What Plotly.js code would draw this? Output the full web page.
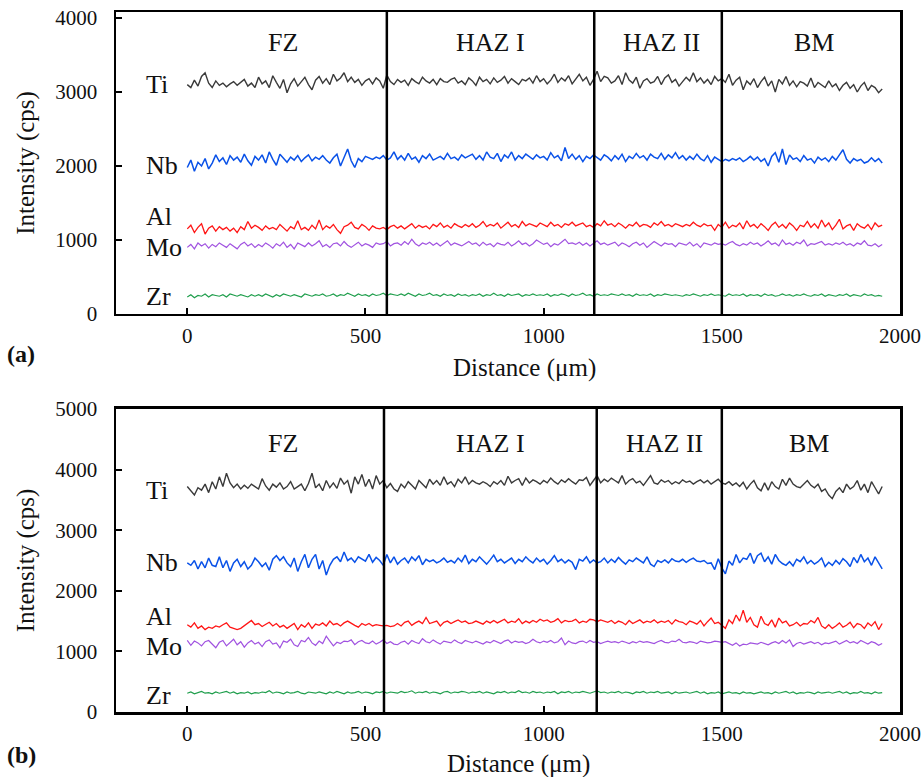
<!DOCTYPE html>
<html>
<head>
<meta charset="utf-8">
<script src="https://cdn.plot.ly/plotly-3.0.1.min.js"></script>
<style>html,body{margin:0;padding:0;background:#fff;}#chart{width:923px;height:777px;}</style>
</head>
<body>
<div id="chart"></div>
<script>
// Distance grid (µm): 0..1950, step 10
const distanceStep = 10;
const pointCount = 196;
const distance = Array.from({length: pointCount}, (_, i) => i * distanceStep);

const elements = ["Ti", "Nb", "Al", "Mo", "Zr"];
const zoneNames = ["FZ", "HAZ I", "HAZ II", "BM"];
const zoneBoundariesA = [560, 1142, 1500];
const zoneBoundariesB = [552, 1149, 1500];
const xTickVals = [0, 500, 1000, 1500, 2000];
const yTickValsA = [0, 1000, 2000, 3000, 4000];
const yTickValsB = [0, 1000, 2000, 3000, 4000, 5000];

// ---------- Panel (a) ----------
const tiA = [
3100,3060,3160,3080,3210,3260,3120,3060,3150,3090,3120,3070,3110,3140,3090,3130,3170,3080,3120,3060,
3200,3110,3150,3060,3220,3130,3050,3170,2990,3110,3180,3080,3140,3200,3100,3030,3160,3210,3120,3180,
3100,3240,3150,3190,3260,3140,3200,3130,3170,3090,3150,3180,3110,3190,3150,3050,3230,3140,3100,3170,
3130,3160,3090,3180,3140,3110,3200,3150,3120,3170,3100,3180,3140,3130,3170,3190,3120,3150,3100,3190,
3150,3090,3200,3140,3170,3110,3190,3130,3160,3210,3120,3180,3140,3100,3170,3150,3190,3120,3220,3140,
3180,3110,3160,3240,3130,3190,3150,3220,3110,3180,3240,3150,3200,3090,3170,3280,3140,3210,3190,3120,
3150,3220,3100,3260,3160,3120,3200,3050,3150,3180,3120,3140,3210,3100,3190,3230,3130,3170,3080,3140,
3200,3150,3260,3140,3190,3120,3170,3100,3210,3150,3180,3130,3240,3090,3160,3200,3030,3150,3100,3180,
3060,3140,3200,3080,3150,3000,3170,3110,3210,3090,3150,3070,3140,3120,3080,3190,3060,3130,3100,3060,
3150,3070,3110,3020,3090,3130,3050,3100,3000,3080,3130,3020,3090,3060,2990,3040];
const nbA = [
1980,2080,1930,2050,2000,2100,1960,2040,2150,2060,2110,2020,2140,2080,2120,2050,2160,2070,2010,2130,
2080,2150,2040,2190,2090,2010,2160,2100,2050,2120,2080,2140,2060,2110,2150,2070,2120,2090,2140,2080,
2040,2110,2160,2000,2120,2230,2070,1980,2100,2060,2130,2110,2090,2120,2100,2140,2080,2110,2190,2090,
2140,2080,2170,2090,2120,2050,2140,2100,2160,2080,2110,2130,2090,2170,2100,2120,2080,2150,2110,2130,
2160,2090,2140,2080,2190,2120,2100,2170,2060,2150,2110,2190,2080,2140,2100,2160,2120,2090,2150,2110,
2130,2080,2180,2110,2140,2070,2250,2100,2160,2090,2140,2060,2130,2100,2150,2120,2080,2150,2120,2070,
2140,2090,2160,2060,2130,2100,2170,2110,2140,2080,2160,2120,2100,2170,2090,2150,2110,2180,2100,2140,
2080,2130,2090,2160,2100,2070,2140,2050,2120,2090,2060,2090,2070,2100,2080,2110,2060,2090,2130,2080,
2120,2060,2100,2000,2130,2180,2050,2230,2020,2150,2090,2110,2060,2140,2080,2100,2040,2120,2080,2110,
2060,2130,2080,2150,2220,2090,2040,2100,2070,2090,2040,2060,2110,2060,2100,2040];
const alA = [
1150,1200,1100,1170,1220,1080,1160,1190,1120,1180,1140,1170,1120,1160,1100,1180,1140,1250,1160,1200,
1170,1130,1190,1150,1170,1140,1210,1160,1120,1180,1150,1260,1140,1170,1130,1200,1150,1270,1140,1190,
1160,1210,1140,1090,1180,1200,1240,1170,1150,1210,1180,1130,1190,1160,1150,1170,1140,1180,1200,1160,
1190,1150,1180,1220,1160,1200,1170,1190,1150,1210,1180,1230,1170,1200,1160,1220,1190,1170,1210,1180,
1220,1170,1200,1250,1180,1210,1190,1230,1160,1200,1240,1180,1210,1170,1250,1190,1220,1200,1180,1230,
1200,1180,1240,1190,1210,1170,1220,1200,1240,1190,1210,1230,1180,1200,1170,1220,1190,1260,1200,1220,
1180,1230,1200,1160,1210,1190,1240,1180,1210,1200,1170,1230,1200,1250,1190,1210,1180,1220,1200,1180,
1210,1190,1240,1200,1180,1220,1190,1200,1130,1210,1170,1240,1160,1200,1180,1230,1150,1260,1180,1210,
1160,1220,1180,1130,1200,1240,1170,1210,1160,1230,1190,1130,1200,1180,1250,1170,1220,1160,1270,1180,
1230,1140,1200,1280,1150,1190,1210,1130,1220,1180,1160,1210,1140,1230,1180,1200];
const moA = [
900,940,880,960,920,950,890,940,910,960,930,900,950,920,880,940,970,920,950,900,
940,910,960,930,890,950,920,970,900,940,880,960,930,910,960,920,950,990,910,940,
900,950,960,920,980,930,900,940,970,920,950,930,900,960,940,950,980,920,950,960,
930,980,940,1010,950,920,960,940,970,930,960,920,950,990,930,960,940,920,950,980,
940,960,920,970,930,950,910,960,940,930,970,920,950,990,940,960,920,950,1000,970,
940,960,910,950,930,970,1010,950,960,940,970,930,960,920,950,990,940,960,930,950,
970,920,960,940,910,950,970,930,960,900,940,980,950,920,960,940,950,910,960,950,
930,970,920,950,900,960,940,930,960,940,950,930,960,980,940,920,950,930,970,940,
960,920,950,990,940,960,920,1000,940,960,930,970,950,1000,920,950,940,960,980,930,
950,930,960,940,970,930,950,920,960,940,990,930,920,950,910,940];
const zrA = [
230,260,220,250,240,270,230,260,250,240,260,230,270,250,240,260,250,230,260,240,
260,240,270,250,230,260,240,270,250,240,260,250,230,270,250,240,260,250,270,240,
250,270,240,260,250,280,260,240,270,250,260,240,270,250,260,280,250,270,260,250,
270,250,280,260,240,270,250,260,280,250,260,240,270,250,260,240,270,250,260,240,
260,250,270,240,260,250,280,250,260,240,270,250,260,270,240,260,250,270,250,260,
250,270,240,260,250,270,260,240,270,250,260,280,250,260,240,270,250,260,250,270,
260,250,270,250,260,240,270,250,260,250,270,240,260,250,270,260,250,260,250,240,
260,250,270,250,240,260,250,270,250,260,250,240,270,250,260,250,270,240,260,250,
260,240,270,250,260,240,250,270,250,260,240,260,250,270,250,240,260,250,270,240,
260,250,240,260,250,270,240,260,250,240,270,250,260,240,250,240];

// ---------- Panel (b) ----------
const tiB = [
3720,3640,3580,3700,3660,3760,3620,3800,3680,3880,3720,3940,3780,3700,3760,3680,3740,3690,3760,3720,
3680,3850,3730,3660,3760,3710,3780,3680,3720,3800,3680,3720,3760,3650,3770,3940,3700,3760,3650,3820,
3700,3780,3690,3860,3760,3820,3610,3880,3760,3920,3720,3840,3680,3900,3760,3820,3700,3770,3680,3640,
3760,3700,3800,3740,3680,3820,3760,3700,3840,3760,3820,3740,3880,3760,3800,3720,3840,3780,3880,3760,
3820,3780,3760,3800,3770,3720,3800,3760,3820,3740,3890,3780,3820,3850,3740,3860,3780,3830,3800,3760,
3820,3780,3860,3800,3760,3830,3790,3850,3800,3760,3830,3820,3870,3740,3820,3900,3780,3840,3800,3860,
3820,3780,3900,3760,3820,3850,3780,3810,3740,3830,3900,3780,3760,3830,3790,3820,3760,3800,3770,3830,
3790,3810,3760,3800,3830,3780,3820,3760,3800,3840,3780,3760,3800,3740,3780,3720,3790,3680,3760,3820,
3700,3650,3780,3660,3800,3720,3680,3840,3740,3860,3760,3720,3700,3760,3820,3740,3700,3760,3640,3680,
3580,3520,3640,3700,3620,3760,3680,3720,3820,3660,3760,3620,3800,3700,3600,3720];
const nbB = [
2460,2420,2500,2360,2480,2380,2540,2420,2400,2560,2380,2500,2320,2460,2520,2400,2480,2360,2420,2540,
2480,2400,2460,2340,2520,2580,2500,2560,2460,2400,2540,2320,2480,2600,2380,2520,2600,2360,2500,2260,
2420,2520,2560,2480,2640,2500,2540,2470,2560,2520,2490,2600,2470,2550,2500,2420,2600,2460,2560,2440,
2500,2540,2460,2560,2500,2580,2430,2520,2480,2510,2460,2490,2540,2470,2500,2460,2540,2480,2590,2450,
2520,2480,2560,2500,2440,2510,2590,2480,2520,2460,2500,2540,2450,2520,2480,2560,2500,2460,2540,2480,
2520,2440,2500,2580,2480,2520,2460,2510,2470,2350,2520,2490,2560,2460,2510,2460,2480,2540,2460,2520,
2470,2550,2490,2440,2510,2480,2540,2500,2460,2560,2440,2400,2500,2470,2510,2460,2530,2490,2480,2520,
2470,2510,2540,2490,2480,2500,2450,2460,2350,2530,2380,2280,2490,2420,2600,2460,2540,2520,2620,2450,
2580,2620,2480,2560,2440,2600,2500,2450,2420,2480,2410,2520,2480,2560,2450,2500,2440,2480,2540,2400,
2470,2420,2500,2440,2530,2480,2400,2550,2460,2600,2480,2540,2420,2560,2450,2360];
const alB = [
1440,1400,1470,1380,1420,1360,1400,1380,1420,1400,1440,1470,1400,1380,1360,1380,1420,1470,1510,1440,
1460,1410,1440,1480,1420,1460,1400,1430,1380,1420,1460,1360,1440,1400,1470,1380,1450,1430,1470,1420,
1500,1440,1460,1420,1470,1500,1460,1430,1400,1460,1430,1460,1420,1440,1430,1420,1430,1410,1420,1460,
1420,1480,1500,1430,1470,1500,1460,1560,1460,1480,1500,1420,1480,1500,1460,1490,1520,1480,1500,1460,
1470,1500,1480,1450,1500,1470,1510,1470,1500,1530,1470,1500,1480,1540,1460,1500,1470,1510,1480,1530,
1500,1520,1480,1500,1540,1470,1510,1490,1500,1530,1470,1500,1480,1530,1520,1490,1520,1500,1480,1510,
1460,1500,1480,1440,1510,1460,1490,1520,1470,1500,1480,1520,1470,1500,1480,1510,1450,1520,1490,1480,
1440,1500,1480,1450,1510,1420,1490,1550,1460,1480,1430,1380,1520,1460,1600,1500,1680,1480,1560,1440,
1400,1580,1460,1430,1520,1400,1550,1470,1500,1420,1440,1480,1420,1460,1450,1510,1470,1560,1420,1380,
1440,1380,1420,1470,1400,1430,1480,1390,1460,1440,1380,1470,1420,1490,1360,1460];
const moB = [
1180,1100,1170,1140,1090,1160,1180,1120,1060,1150,1180,1090,1140,1200,1110,1160,1070,1140,1180,1120,
1150,1080,1160,1190,1120,1140,1060,1170,1150,1200,1110,1080,1180,1160,1230,1140,1100,1170,1130,1250,
1170,1090,1150,1130,1170,1160,1190,1110,1160,1180,1140,1130,1170,1120,1150,1190,1130,1160,1120,1110,
1150,1170,1120,1180,1150,1130,1210,1160,1140,1190,1150,1120,1170,1160,1140,1190,1150,1130,1180,1160,
1140,1170,1150,1120,1160,1140,1180,1150,1130,1170,1190,1140,1170,1150,1160,1130,1150,1200,1160,1140,
1170,1150,1180,1140,1160,1220,1110,1170,1140,1130,1160,1170,1140,1180,1150,1160,1130,1150,1170,1150,
1160,1140,1170,1150,1130,1160,1140,1170,1150,1160,1140,1130,1160,1180,1150,1140,1170,1160,1200,1150,
1140,1160,1150,1130,1170,1160,1140,1150,1170,1160,1150,1160,1130,1100,1140,1090,1120,1110,1140,1130,
1120,1150,1130,1110,1140,1160,1130,1180,1140,1190,1080,1130,1150,1120,1140,1160,1130,1150,1110,1140,
1130,1150,1170,1120,1150,1180,1140,1160,1130,1180,1150,1120,1160,1140,1100,1130];
const zrB = [
310,330,300,320,340,310,320,300,330,310,320,340,310,330,300,320,310,330,300,320,
310,330,320,350,310,330,320,300,330,310,320,340,310,300,330,320,310,330,320,300,
330,310,340,320,300,330,310,320,340,310,330,320,300,330,320,340,310,330,320,310,
340,320,330,350,310,330,320,340,310,330,320,300,330,340,310,330,320,340,330,310,
330,320,340,310,330,320,300,330,320,340,310,330,320,350,320,330,310,340,320,330,
310,330,320,340,300,330,320,340,310,330,320,340,330,310,330,350,320,330,310,330,
320,340,310,330,320,300,330,320,340,310,330,320,340,310,320,330,300,330,310,320,
330,310,320,340,310,330,300,320,310,330,300,320,330,310,320,300,330,310,320,300,
320,330,310,320,300,330,310,320,340,310,330,300,320,310,330,320,300,330,310,320,
330,310,320,340,310,330,300,320,310,340,310,320,300,330,310,320];

const seriesA = [tiA, nbA, alA, moA, zrA];
const seriesB = [tiB, nbB, alB, moB, zrB];
const labelYA = [3108, 2000, 1311, 905, 243];
const labelYB = [3647, 2459, 1584, 1089, 280];
const colors = ["#3a3a3a", "#0a52e8", "#ff1616", "#a052e0", "#1f9e4c"];
const widths = [1.4, 1.5, 1.3, 1.2, 1.2];

const FONT = "Liberation Serif, Times New Roman, serif";

const traces = [];
seriesA.forEach((ys, k) => traces.push({
  x: distance, y: ys, xaxis: "x", yaxis: "y", type: "scatter", mode: "lines",
  name: elements[k] + " (a)", showlegend: false, hoverinfo: "x+y",
  line: {color: colors[k], width: widths[k]}
}));
seriesB.forEach((ys, k) => traces.push({
  x: distance, y: ys, xaxis: "x2", yaxis: "y2", type: "scatter", mode: "lines",
  name: elements[k] + " (b)", showlegend: false, hoverinfo: "x+y",
  line: {color: colors[k], width: widths[k]}
}));

const shapes = [];
zoneBoundariesA.forEach(b => shapes.push({type: "line", xref: "x", yref: "y domain", x0: b, x1: b, y0: 0, y1: 1, line: {color: "#000", width: 2.5}}));
zoneBoundariesB.forEach(b => shapes.push({type: "line", xref: "x2", yref: "y2 domain", x0: b, x1: b, y0: 0, y1: 1, line: {color: "#000", width: 2.5}}));

const zoneCentersA = [270, 850, 1330, 1760];
const zoneCentersB = [270, 850, 1340, 1745];
const annotations = [];
zoneNames.forEach((z, i) => {
  annotations.push({text: z, xref: "x", yref: "y", x: zoneCentersA[i], y: 3670, showarrow: false, font: {family: FONT, size: 26, color: "#111"}});
  annotations.push({text: z, xref: "x2", yref: "y2", x: zoneCentersB[i], y: 4430, showarrow: false, font: {family: FONT, size: 26, color: "#111"}});
});
elements.forEach((el, k) => {
  annotations.push({text: el, xref: "x", yref: "y", x: -122, y: labelYA[k], xanchor: "left", showarrow: false, font: {family: FONT, size: 26, color: "#111"}});
  annotations.push({text: el, xref: "x2", yref: "y2", x: -122, y: labelYB[k], xanchor: "left", showarrow: false, font: {family: FONT, size: 26, color: "#111"}});
});
annotations.push({text: "<b>(a)</b>", xref: "paper", yref: "paper", x: -0.142, y: 0.512, xanchor: "left", yanchor: "middle", showarrow: false, font: {family: FONT, size: 24, color: "#111"}});
annotations.push({text: "<b>(b)</b>", xref: "paper", yref: "paper", x: -0.142, y: -0.062, xanchor: "left", yanchor: "middle", showarrow: false, font: {family: FONT, size: 24, color: "#111"}});
// x-axis titles (centred slightly right of the plot centre, as in the original)
annotations.push({text: "Distance (μm)", xref: "x", yref: "paper", x: 945, y: 0.492, xanchor: "center", yanchor: "middle", showarrow: false, font: {family: FONT, size: 25, color: "#111"}});
annotations.push({text: "Distance (μm)", xref: "x2", yref: "paper", x: 930, y: -0.074, xanchor: "center", yanchor: "middle", showarrow: false, font: {family: FONT, size: 25, color: "#111"}});

function xAxis(anchor) {
  return {
    anchor: anchor, range: [-200, 2000], tickvals: xTickVals, ticks: "inside", ticklen: 6, tickwidth: 2, tickcolor: "#000",
    showline: true, mirror: true, linecolor: "#000", linewidth: 2.5, showgrid: false, zeroline: false,
    ticklabelstandoff: 1,
    tickfont: {family: FONT, size: 21, color: "#111"}
  };
}
function yAxis(anchor, range, tv, domain) {
  return {
    anchor: anchor, domain: domain, range: range, tickvals: tv, ticks: "inside", ticklen: 6, tickwidth: 2, tickcolor: "#000",
    showline: true, mirror: true, linecolor: "#000", linewidth: 2.5, showgrid: false, zeroline: false,
    ticklabelstandoff: 12,
    tickfont: {family: FONT, size: 21, color: "#111"},
    title: {text: "Intensity (cps)", font: {family: FONT, size: 25, color: "#111"}, standoff: 14}
  };
}

const layout = {
  width: 923, height: 777,
  margin: {l: 116, r: 23, t: 12, b: 65},
  paper_bgcolor: "#fff", plot_bgcolor: "#fff",
  xaxis: xAxis("y"),
  yaxis: yAxis("x", [0, 4081], yTickValsA, [0.5686, 1]),
  xaxis2: xAxis("y2"),
  yaxis2: yAxis("x2", [0, 5000], yTickValsB, [0, 0.4329]),
  shapes: shapes, annotations: annotations, showlegend: false
};

Plotly.newPlot("chart", traces, layout, {displayModeBar: false, staticPlot: true});
</script>
</body>
</html>
